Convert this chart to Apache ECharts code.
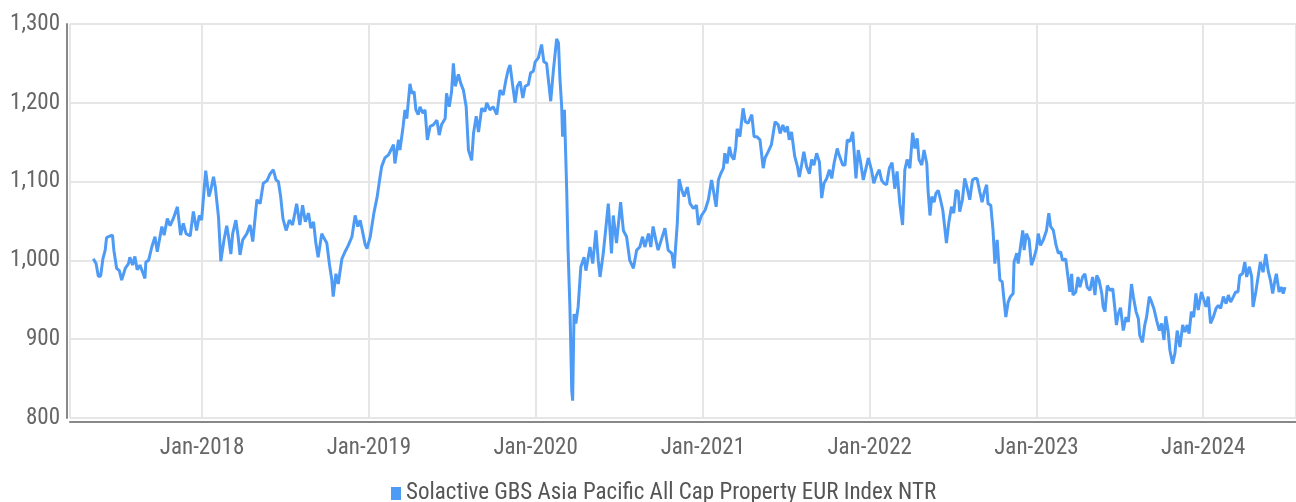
<!DOCTYPE html>
<html>
<head>
<meta charset="utf-8">
<script src="https://cdn.jsdelivr.net/npm/echarts@6/dist/echarts.min.js"></script>
<style>
html,body{margin:0;padding:0;background:#fff;}
#chart{width:1296px;height:502px;}
</style>
</head>
<body>
<div id="chart"></div>
<script>
// x positions as days since 2018-01-01
const daysSince2018 = [-238,-232,-227,-222,-217,-212,-209,-201,-196,-193,-187,-181,-176,-168,-161,-158,-152,-147,-142,-136,-130,-125,-123,-117,-110,-103,-98,-88,-83,-76,-70,-63,-54,-47,-41,-35,-26,-19,-12,-6,-1,8,15,19,25,29,36,41,48,54,58,63,67,74,79,83,89,98,105,111,120,127,134,142,149,156,162,167,172,177,184,191,198,207,214,220,226,233,238,244,249,254,262,267,273,279,284,287,293,298,306,313,320,328,335,341,346,350,357,361,368,376,383,389,393,400,408,415,419,422,430,433,440,444,448,455,459,464,468,473,477,483,488,493,499,506,514,519,524,532,535,541,546,550,554,561,566,572,578,583,590,594,600,605,612,619,623,630,637,645,652,659,665,670,674,680,685,690,696,702,707,714,719,725,729,736,743,748,754,763,769,776,780,783,787,789,793,798,801,805,809,811,814,818,823,829,836,840,849,855,862,867,871,878,884,889,896,900,907,916,922,929,936,944,951,958,964,969,977,982,987,993,998,1006,1013,1020,1028,1033,1040,1044,1050,1055,1062,1068,1075,1082,1086,1093,1101,1108,1115,1119,1125,1130,1135,1141,1144,1149,1154,1159,1164,1168,1171,1177,1184,1189,1195,1203,1208,1214,1221,1228,1232,1239,1246,1254,1261,1265,1271,1276,1281,1285,1290,1297,1303,1307,1312,1317,1323,1329,1334,1339,1345,1351,1356,1361,1367,1373,1378,1383,1390,1394,1402,1407,1412,1418,1424,1427,1431,1436,1441,1447,1453,1458,1465,1470,1476,1482,1487,1492,1498,1504,1510,1516,1521,1527,1533,1538,1543,1549,1555,1560,1565,1569,1575,1580,1586,1589,1593,1597,1602,1606,1611,1616,1621,1626,1629,1634,1640,1645,1650,1655,1658,1664,1669,1674,1680,1686,1691,1696,1702,1707,1712,1717,1720,1726,1731,1735,1740,1746,1751,1755,1759,1764,1769,1775,1777,1783,1786,1791,1796,1799,1804,1810,1815,1820,1826,1830,1835,1841,1848,1853,1857,1863,1869,1874,1879,1883,1890,1895,1899,1903,1906,1912,1917,1921,1927,1932,1937,1943,1949,1954,1958,1963,1969,1972,1976,1981,1987,1993,1998,2001,2005,2010,2016,2022,2027,2034,2038,2044,2049,2052,2058,2063,2067,2073,2078,2083,2089,2095,2100,2105,2109,2114,2118,2124,2129,2134,2140,2146,2151,2156,2160,2165,2170,2175,2180,2187,2191,2197,2202,2207,2213,2219,2224,2229,2235,2241,2246,2251,2257,2262,2267,2271,2277,2282,2286,2292,2297,2300,2306,2311,2316,2322,2328,2333,2338,2343,2348,2351,2357,2362,2366,2370];

const indexValues = [1002,996,980,980,1002,1013,1029,1031,1032,1013,990,987,975,990,996,1004,994,1005,988,994,985,977,998,1000,1017,1030,1011,1043,1032,1053,1044,1053,1068,1032,1047,1034,1031,1062,1038,1057,1051,1114,1081,1089,1106,1093,1055,999,1026,1044,1030,1008,1034,1051,1030,1007,1026,1034,1045,1024,1077,1072,1098,1101,1110,1115,1102,1100,1081,1053,1038,1051,1045,1072,1045,1070,1049,1060,1041,1049,1022,1004,1034,1028,1022,994,975,954,983,970,1002,1011,1019,1030,1057,1043,1051,1040,1020,1015,1030,1060,1080,1104,1119,1130,1134,1142,1147,1123,1153,1140,1170,1191,1180,1224,1212,1214,1191,1185,1195,1187,1191,1153,1170,1172,1178,1159,1172,1180,1212,1195,1214,1250,1221,1236,1225,1216,1195,1140,1127,1161,1183,1163,1193,1189,1200,1191,1195,1185,1216,1210,1229,1242,1248,1221,1200,1221,1227,1206,1221,1223,1238,1240,1252,1257,1274,1252,1250,1202,1242,1281,1276,1233,1195,1157,1191,1089,1013,941,835,822,932,920,941,992,1004,987,1017,996,1038,1000,979,1009,1043,1072,1009,1057,1022,1074,1038,1030,1000,990,1013,1017,1030,1017,1034,1017,1043,1026,1013,1028,1041,1013,1009,990,1047,1103,1089,1081,1093,1072,1066,1070,1045,1057,1064,1077,1102,1089,1068,1102,1110,1117,1136,1123,1144,1132,1128,1144,1167,1157,1193,1176,1174,1185,1157,1157,1153,1117,1130,1138,1147,1176,1172,1161,1172,1163,1170,1153,1163,1132,1119,1106,1121,1138,1119,1110,1128,1121,1136,1125,1079,1098,1104,1115,1104,1123,1142,1134,1121,1121,1153,1151,1163,1138,1104,1140,1125,1102,1117,1130,1115,1098,1108,1115,1102,1098,1096,1117,1124,1091,1113,1072,1045,1115,1128,1117,1162,1142,1155,1128,1121,1140,1123,1087,1057,1081,1074,1085,1089,1077,1064,1038,1022,1047,1068,1060,1089,1087,1062,1077,1104,1093,1077,1102,1104,1104,1087,1074,1087,1096,1072,1070,1038,996,1026,975,973,950,928,947,954,958,998,1009,996,1017,1038,1013,1034,1026,994,1002,1015,1034,1019,1026,1038,1060,1043,1038,1019,1009,1011,1000,1002,979,960,983,956,960,979,966,979,983,966,962,979,956,981,975,958,941,935,968,962,964,937,918,932,940,911,928,922,970,954,935,926,905,896,918,928,954,947,939,924,911,920,899,929,911,886,869,882,911,890,918,909,918,907,935,928,958,937,960,962,941,954,920,928,939,943,939,954,945,956,947,954,960,960,981,983,998,979,992,979,941,960,979,998,985,1008,987,975,958,975,983,960,966,958,966];

const seriesName = 'Solactive GBS Asia Pacific All Cap Property EUR Index NTR';
const yTicks = [800, 900, 1000, 1100, 1200, 1300];

const FONT = "'Roboto Condensed','Liberation Sans Narrow','DejaVu Sans Condensed',sans-serif";
const n = Math.min(daysSince2018.length, indexValues.length);
const seriesData = [];
for (let i = 0; i < n; i++) {
  seriesData.push([new Date(2018, 0, 1 + daysSince2018[i]).getTime(), indexValues[i]]);
}
const MONTHS = ['Jan','Feb','Mar','Apr','May','Jun','Jul','Aug','Sep','Oct','Nov','Dec'];
const YEAR = 365 * 24 * 3600 * 1000;

const chart = echarts.init(document.getElementById('chart'));
const option = {
  animation: false,
  backgroundColor: '#ffffff',
  grid: { left: 70, right: 0, top: 24, bottom: 84 },
  legend: {
    left: 386, top: 477,
    icon: 'rect', itemWidth: 10, itemHeight: 13, itemGap: 10,
    textStyle: { fontFamily: FONT, fontSize: 23, color: '#555' },
    data: [seriesName]
  },
  xAxis: {
    type: 'time',
    min: new Date(2017, 2, 18).getTime(),
    max: new Date(2024, 6, 22).getTime(),
    splitNumber: 7,
    minInterval: YEAR,
    maxInterval: YEAR * 1.01,
    offset: 4,
    axisLine: { show: true, lineStyle: { color: '#888', width: 2 } },
    axisTick: { show: false },
    axisLabel: {
      fontFamily: FONT, fontSize: 23, color: '#666', margin: 15,
      formatter: function (v) { const d = new Date(v); return MONTHS[d.getMonth()] + '-' + d.getFullYear(); }
    },
    splitLine: { show: true, lineStyle: { color: '#e6e6e6', width: 2 } }
  },
  yAxis: {
    type: 'value',
    min: yTicks[0], max: yTicks[yTicks.length - 1], interval: 100,
    offset: 3,
    axisLine: { show: true, lineStyle: { color: '#888', width: 2 } },
    axisTick: { show: false },
    axisLabel: {
      fontFamily: FONT, fontSize: 23, color: '#666', margin: 7,
      formatter: function (v) { return v.toLocaleString('en-US'); }
    },
    splitLine: { show: true, lineStyle: { color: '#e6e6e6', width: 2 } }
  },
  series: [{
    name: seriesName,
    type: 'line',
    data: seriesData,
    showSymbol: false,
    symbol: 'none',
    lineStyle: { color: '#4e9bf6', width: 3 },
    itemStyle: { color: '#4e9bf6' }
  }]
};
if (daysSince2018.length !== indexValues.length) {
  option.graphic = [{ type: 'text', left: 300, top: 40, style: { text: 'LEN ' + daysSince2018.length + ' vs ' + indexValues.length, fontSize: 20, fill: 'red' } }];
}
chart.setOption(option);
</script>
</body>
</html>
